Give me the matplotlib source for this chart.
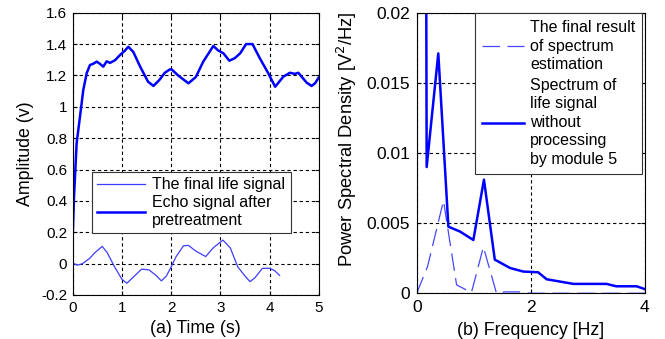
import matplotlib
matplotlib.use("Agg")
import matplotlib.pyplot as plt

plt.rcParams['font.family'] = ['Liberation Sans', 'DejaVu Sans']
plt.rcParams['font.size'] = 11

# ---- Data (a): time signals ----
t_echo = [0.0, 0.027, 0.08, 0.148, 0.215, 0.284, 0.35, 0.42, 0.487, 0.55, 0.62, 0.69, 0.757, 0.86,
          0.96, 1.05, 1.13, 1.23, 1.37, 1.53, 1.64, 1.77, 1.87, 1.975, 2.01, 2.14, 2.35,
          2.5, 2.65, 2.855, 2.95, 3.06, 3.18, 3.29, 3.40, 3.52, 3.65, 3.80, 3.97, 4.11,
          4.275, 4.41, 4.51, 4.58, 4.75, 4.85, 4.92, 5.0]
v_echo = [0.17, 0.427, 0.767, 0.937, 1.107, 1.214, 1.266, 1.275, 1.288, 1.275, 1.256, 1.29, 1.28, 1.297,
          1.33, 1.355, 1.383, 1.35, 1.256, 1.16, 1.133, 1.175, 1.217, 1.239, 1.238, 1.2, 1.15,
          1.19, 1.288, 1.388, 1.36, 1.341, 1.294, 1.31, 1.341, 1.40, 1.40, 1.309, 1.214, 1.128,
          1.192, 1.217, 1.21, 1.217, 1.154, 1.133, 1.15, 1.19]

t_life = [0.0, 0.1, 0.2, 0.35, 0.45, 0.6, 0.7, 0.85, 1.0, 1.1, 1.25, 1.4, 1.55, 1.7, 1.8, 1.9,
          2.0, 2.1, 2.25, 2.35, 2.5, 2.7, 2.85, 3.05, 3.2, 3.35, 3.5, 3.6, 3.7, 3.85, 4.0,
          4.1, 4.2]
v_life = [0.003, -0.01, 0.0, 0.035, 0.07, 0.11, 0.07, -0.02, -0.10, -0.125, -0.08, -0.035,
          -0.04, -0.077, -0.11, -0.08, -0.02, 0.045, 0.114, 0.116, 0.08, 0.045, 0.10, 0.15,
          0.10, -0.02, -0.08, -0.115, -0.09, -0.03, -0.03, -0.045, -0.075]

# ---- Data (b): spectra ----
f_raw = [0.163, 0.175, 0.379, 0.556, 0.76, 0.994, 1.18, 1.37, 1.64, 1.87, 2.13, 2.28,
         2.75, 3.33, 3.5, 3.86, 4.0]
p_raw = [0.03, 0.0090, 0.0171, 0.00475, 0.0044, 0.0038, 0.0081, 0.0024, 0.0018, 0.00155,
         0.0015, 0.0010, 0.00067, 0.00067, 0.0005, 0.0005, 0.0003]

f_est = [0.0, 0.19, 0.47, 0.70, 0.96, 1.17, 1.4, 1.55, 1.8, 2.0, 4.0]
p_est = [0.0, 0.0019, 0.0066, 0.0006, 0.00005, 0.0033, 0.0, 0.0001, 0.0001, 0.0, 0.0]

fig = plt.figure(figsize=(6.65, 3.39), dpi=100)

grid_kw = dict(color='black', linestyle=(0, (3, 2.5)), linewidth=0.8)

# ---- Panel (a) ----
ax1 = fig.add_axes([0.1093, 0.1298, 0.3704, 0.8327])
ax1.plot(t_life, v_life, color='#3d3dff', linewidth=0.9, label='The final life signal')
ax1.plot(t_echo, v_echo, color='#0000ff', linewidth=1.8, label='Echo signal after\npretreatment')
ax1.set_xlim(0, 5)
ax1.set_ylim(-0.2, 1.6)
ax1.set_xticks([0, 1, 2, 3, 4, 5])
ax1.set_yticks([-0.2, 0, 0.2, 0.4, 0.6, 0.8, 1, 1.2, 1.4, 1.6])
ax1.set_yticklabels(['-0.2', '0', '0.2', '0.4', '0.6', '0.8', '1', '1.2', '1.4', '1.6'])
ax1.grid(True, **grid_kw)
ax1.set_axisbelow(True)
ax1.tick_params(direction='in', length=3, top=True, right=True, labelsize=11, pad=4)
ax1.set_xlabel('(a) Time (s)', fontsize=12.8, va='center')
ax1.set_ylabel('Amplitude (v)', fontsize=12.8, va='center')
ax1.xaxis.set_label_coords(0.5, -0.117)
ax1.yaxis.set_label_coords(-0.19, 0.5)
leg1 = ax1.legend(loc='upper left', bbox_to_anchor=(0.0785, 0.436), frameon=True, fancybox=False,
                  edgecolor='#333333', framealpha=1, fontsize=11.5, handlelength=3.0,
                  handletextpad=0.45, borderpad=0.33, labelspacing=0.15, borderaxespad=0)
for txt in leg1.get_texts():
    txt.set_linespacing(1.3)
leg1.get_frame().set_linewidth(0.8)

# ---- Panel (b) ----
ax2 = fig.add_axes([0.6266, 0.1348, 0.3429, 0.8277])
ax2.plot(f_est, p_est, color='#4646ff', linewidth=0.9, dashes=(14, 6),
         label='The final result\nof spectrum\nestimation')
ax2.plot(f_raw, p_raw, color='#0000ff', linewidth=1.8,
         label='Spectrum of\nlife signal\nwithout\nprocessing\nby module 5')
ax2.set_xlim(0, 4)
ax2.set_ylim(0, 0.02)
ax2.set_xticks([0, 2, 4])
ax2.set_yticks([0, 0.005, 0.01, 0.015, 0.02])
ax2.set_yticklabels(['0', '0.005', '0.01', '0.015', '0.02'])
ax2.grid(True, **grid_kw)
ax2.set_axisbelow(True)
ax2.tick_params(direction='in', length=3, top=True, right=True, labelsize=12.5, pad=4.8)
ax2.set_xlabel('(b) Frequency [Hz]', fontsize=12.8, va='center')
ax2.set_ylabel('Power Spectral Density [V$^2$/Hz]', fontsize=13.2, va='center')
ax2.xaxis.set_label_coords(0.5, -0.131)
ax2.yaxis.set_label_coords(-0.306, 0.55)
leg2 = ax2.legend(loc='upper right', bbox_to_anchor=(0.99, 1.0), frameon=True, fancybox=False,
                  edgecolor='#333333', framealpha=1, fontsize=11.5, handlelength=2.6,
                  handletextpad=0.4, borderpad=0.45, labelspacing=0.35, borderaxespad=0)
for txt in leg2.get_texts():
    txt.set_linespacing(1.3)
leg2.get_frame().set_linewidth(0.8)

fig.savefig('out.png', dpi=100)
